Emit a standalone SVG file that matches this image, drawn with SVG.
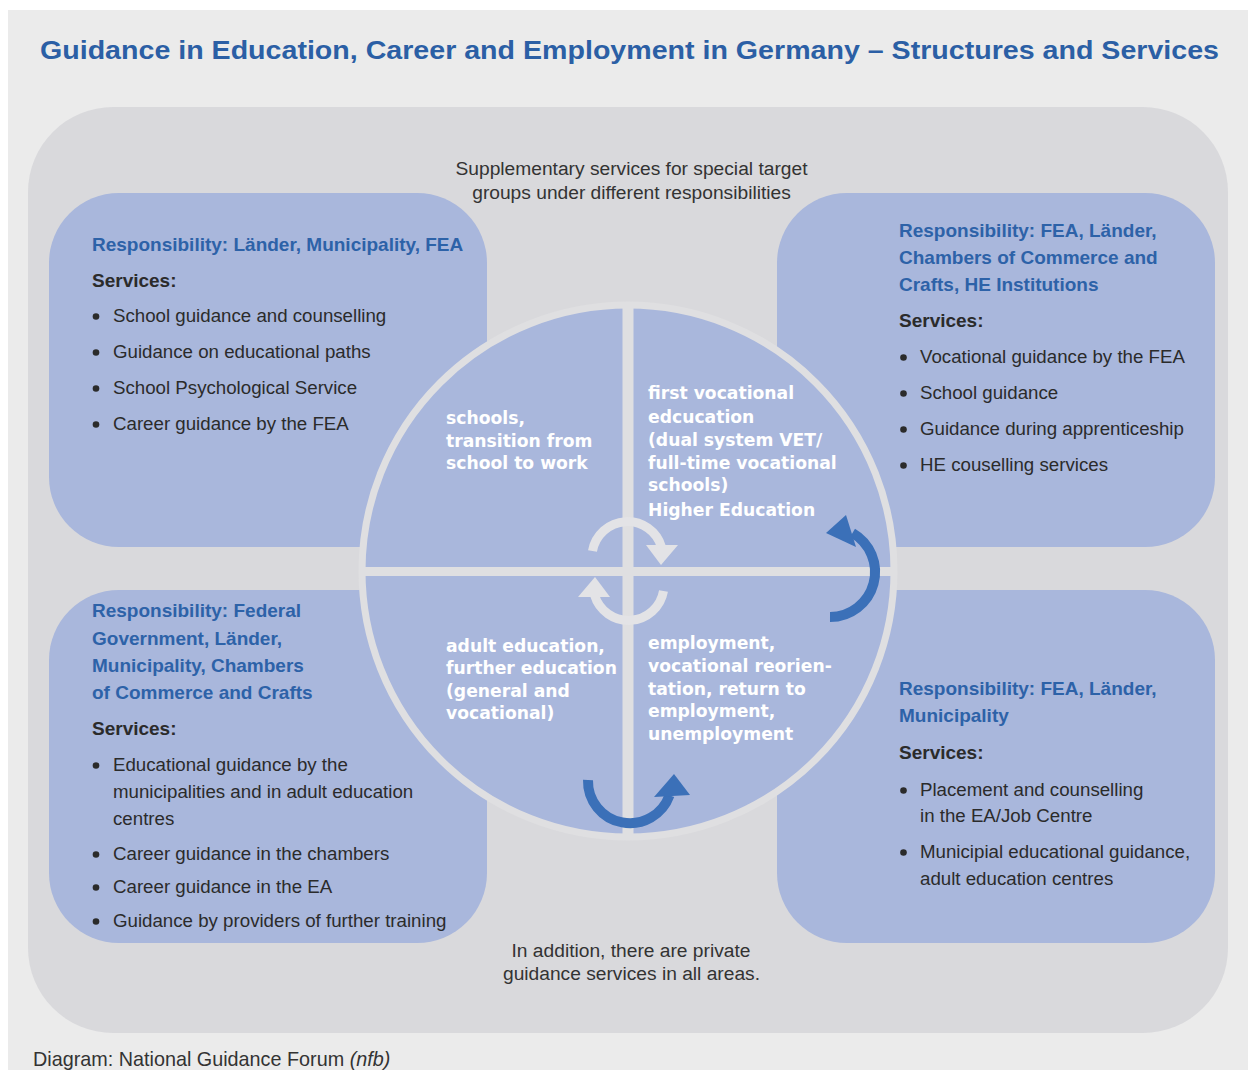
<svg xmlns="http://www.w3.org/2000/svg" width="1248" height="1070" viewBox="0 0 1248 1070">
<style>
.body{font-family:"Liberation Sans",Arial,sans-serif;font-size:18.7px;fill:#2b2b2b}
.head{font-family:"Liberation Sans",Arial,sans-serif;font-size:19px;font-weight:bold;fill:#2d62a8}
.serv{font-family:"Liberation Sans",Arial,sans-serif;font-size:19px;font-weight:bold;fill:#2b2b2b}
.quad{font-family:"DejaVu Sans",Verdana,sans-serif;font-size:17.2px;font-weight:bold;fill:#ffffff}
.note{font-family:"Liberation Sans",Arial,sans-serif;font-size:19.2px;fill:#333333;text-anchor:middle}
.box{fill:#a9b7dc}
.bul{fill:#2b2b2b}
.cyc{fill:none;stroke:#e3e3e6;stroke-width:9}
.cych{fill:#e3e3e6}
.blu{fill:none;stroke:#3b70b8;stroke-width:10}
.bluh{fill:#3b70b8}
</style>
<rect x="0" y="0" width="1248" height="1070" fill="#ffffff"/>
<rect x="8" y="10" width="1240" height="1060" fill="#ebebeb"/>
<g id="title">
<text x="40" y="59" font-family="Liberation Sans, Arial, sans-serif" font-size="26" font-weight="bold" fill="#2b5fa5" textLength="1179" lengthAdjust="spacingAndGlyphs">Guidance in Education, Career and Employment in Germany – Structures and Services</text>
</g>
<rect id="frame" x="28" y="107" width="1200" height="926" rx="85" ry="85" fill="#d9d9dc"/>

<g id="box-tl">
<rect class="box" x="49" y="193" width="438" height="354" rx="70" ry="70"/>
<text class="head" x="92" y="251">Responsibility: Länder, Municipality, FEA</text>
<text class="serv" x="92" y="287">Services:</text>
<circle class="bul" cx="96" cy="316.5" r="3.3"/><text class="body" x="113" y="322">School guidance and counselling</text>
<circle class="bul" cx="96" cy="352.5" r="3.3"/><text class="body" x="113" y="358">Guidance on educational paths</text>
<circle class="bul" cx="96" cy="388.5" r="3.3"/><text class="body" x="113" y="394">School Psychological Service</text>
<circle class="bul" cx="96" cy="424.5" r="3.3"/><text class="body" x="113" y="430">Career guidance by the FEA</text>
</g>

<g id="box-tr">
<rect class="box" x="777" y="193" width="438" height="354" rx="70" ry="70"/>
<text class="head" x="899" y="237">Responsibility: FEA, Länder,</text>
<text class="head" x="899" y="264">Chambers of Commerce and</text>
<text class="head" x="899" y="291">Crafts, HE Institutions</text>
<text class="serv" x="899" y="327">Services:</text>
<circle class="bul" cx="903.5" cy="357.5" r="3.3"/><text class="body" x="920" y="363">Vocational guidance by the FEA</text>
<circle class="bul" cx="903.5" cy="393.5" r="3.3"/><text class="body" x="920" y="399">School guidance</text>
<circle class="bul" cx="903.5" cy="429.5" r="3.3"/><text class="body" x="920" y="435">Guidance during apprenticeship</text>
<circle class="bul" cx="903.5" cy="465.5" r="3.3"/><text class="body" x="920" y="471">HE couselling services</text>
</g>

<g id="box-bl">
<rect class="box" x="49" y="590" width="438" height="353" rx="70" ry="70"/>
<text class="head" x="92" y="617">Responsibility: Federal</text>
<text class="head" x="92" y="645">Government, Länder,</text>
<text class="head" x="92" y="672">Municipality, Chambers</text>
<text class="head" x="92" y="699">of Commerce and Crafts</text>
<text class="serv" x="92" y="735">Services:</text>
<circle class="bul" cx="96" cy="765.5" r="3.3"/><text class="body" x="113" y="771">Educational guidance by the</text>
<text class="body" x="113" y="798">municipalities and in adult education</text>
<text class="body" x="113" y="825">centres</text>
<circle class="bul" cx="96" cy="854.5" r="3.3"/><text class="body" x="113" y="860">Career guidance in the chambers</text>
<circle class="bul" cx="96" cy="887.5" r="3.3"/><text class="body" x="113" y="893">Career guidance in the EA</text>
<circle class="bul" cx="96" cy="921.5" r="3.3"/><text class="body" x="113" y="927">Guidance by providers of further training</text>
</g>

<g id="box-br">
<rect class="box" x="777" y="590" width="438" height="353" rx="70" ry="70"/>
<text class="head" x="899" y="695">Responsibility: FEA, Länder,</text>
<text class="head" x="899" y="722">Municipality</text>
<text class="serv" x="899" y="759">Services:</text>
<circle class="bul" cx="903.5" cy="790.5" r="3.3"/><text class="body" x="920" y="796">Placement and counselling</text>
<text class="body" x="920" y="822">in the EA/Job Centre</text>
<circle class="bul" cx="903.5" cy="852.5" r="3.3"/><text class="body" x="920" y="858">Municipial educational guidance,</text>
<text class="body" x="920" y="885">adult education centres</text>
</g>

<g id="hub">
<circle cx="628" cy="571" r="266" fill="#a9b7dc" stroke="#dfdfe1" stroke-width="7"/>
<rect x="622.5" y="305" width="11" height="532" fill="#dfdfe1"/>
<rect x="362" y="567" width="532" height="9" fill="#dfdfe1"/>
</g>

<g id="quad-tl">
<text class="quad" x="446" y="424">schools,</text>
<text class="quad" x="446" y="446.5">transition from</text>
<text class="quad" x="446" y="469">school to work</text>
</g>
<g id="quad-tr">
<text class="quad" x="648" y="399">first vocational</text>
<text class="quad" x="648" y="423">edcucation</text>
<text class="quad" x="648" y="446">(dual system VET/</text>
<text class="quad" x="648" y="468.5">full-time vocational</text>
<text class="quad" x="648" y="491">schools)</text>
<text class="quad" x="648" y="515.5">Higher Education</text>
</g>
<g id="quad-bl">
<text class="quad" x="446" y="651.5">adult education,</text>
<text class="quad" x="446" y="674">further education</text>
<text class="quad" x="446" y="696.5">(general and</text>
<text class="quad" x="446" y="719">vocational)</text>
</g>
<g id="quad-br">
<text class="quad" x="648" y="649">employment,</text>
<text class="quad" x="648" y="672">vocational reorien-</text>
<text class="quad" x="648" y="694.5">tation, return to</text>
<text class="quad" x="648" y="717">employment,</text>
<text class="quad" x="648" y="739.5">unemployment</text>
</g>

<g id="note-top">
<text class="note" x="631.5" y="175">Supplementary services for special target</text>
<text class="note" x="631.5" y="198.5">groups under different responsibilities</text>
</g>
<g id="note-bottom">
<text class="note" x="631" y="956.5">In addition, there are private</text>
<text class="note" x="631.5" y="980">guidance services in all areas.</text>
</g>

<g id="connectors">
<g id="cycle-top">
<path class="cyc" d="M 592.5 551 A 35.5 35.5 0 0 1 661.5 547"/>
<polygon class="cych" points="646,545 678,545 661,565"/>
</g>
<g id="cycle-bottom" transform="rotate(180 628 571)">
<path class="cyc" d="M 592.5 551 A 35.5 35.5 0 0 1 661.5 547"/>
<polygon class="cych" points="646,545 678,545 661,565"/>
</g>
<g id="arrow-right">
<path class="blu" d="M 830 617 A 45 45 0 0 0 852.5 533"/>
<polygon class="bluh" points="826,533 846,515 856,547"/>
</g>
<g id="arrow-bottom">
<path class="blu" d="M 588 780 A 42 42 0 0 0 669.5 795.4"/>
<polygon class="bluh" points="654,797 690,795 674,774"/>
</g>
</g>

<g id="footer">
<text x="33" y="1066" font-family="Liberation Sans, Arial, sans-serif" font-size="19.8" fill="#333333">Diagram: National Guidance Forum <tspan font-style="italic">(nfb)</tspan></text>
</g>
</svg>
